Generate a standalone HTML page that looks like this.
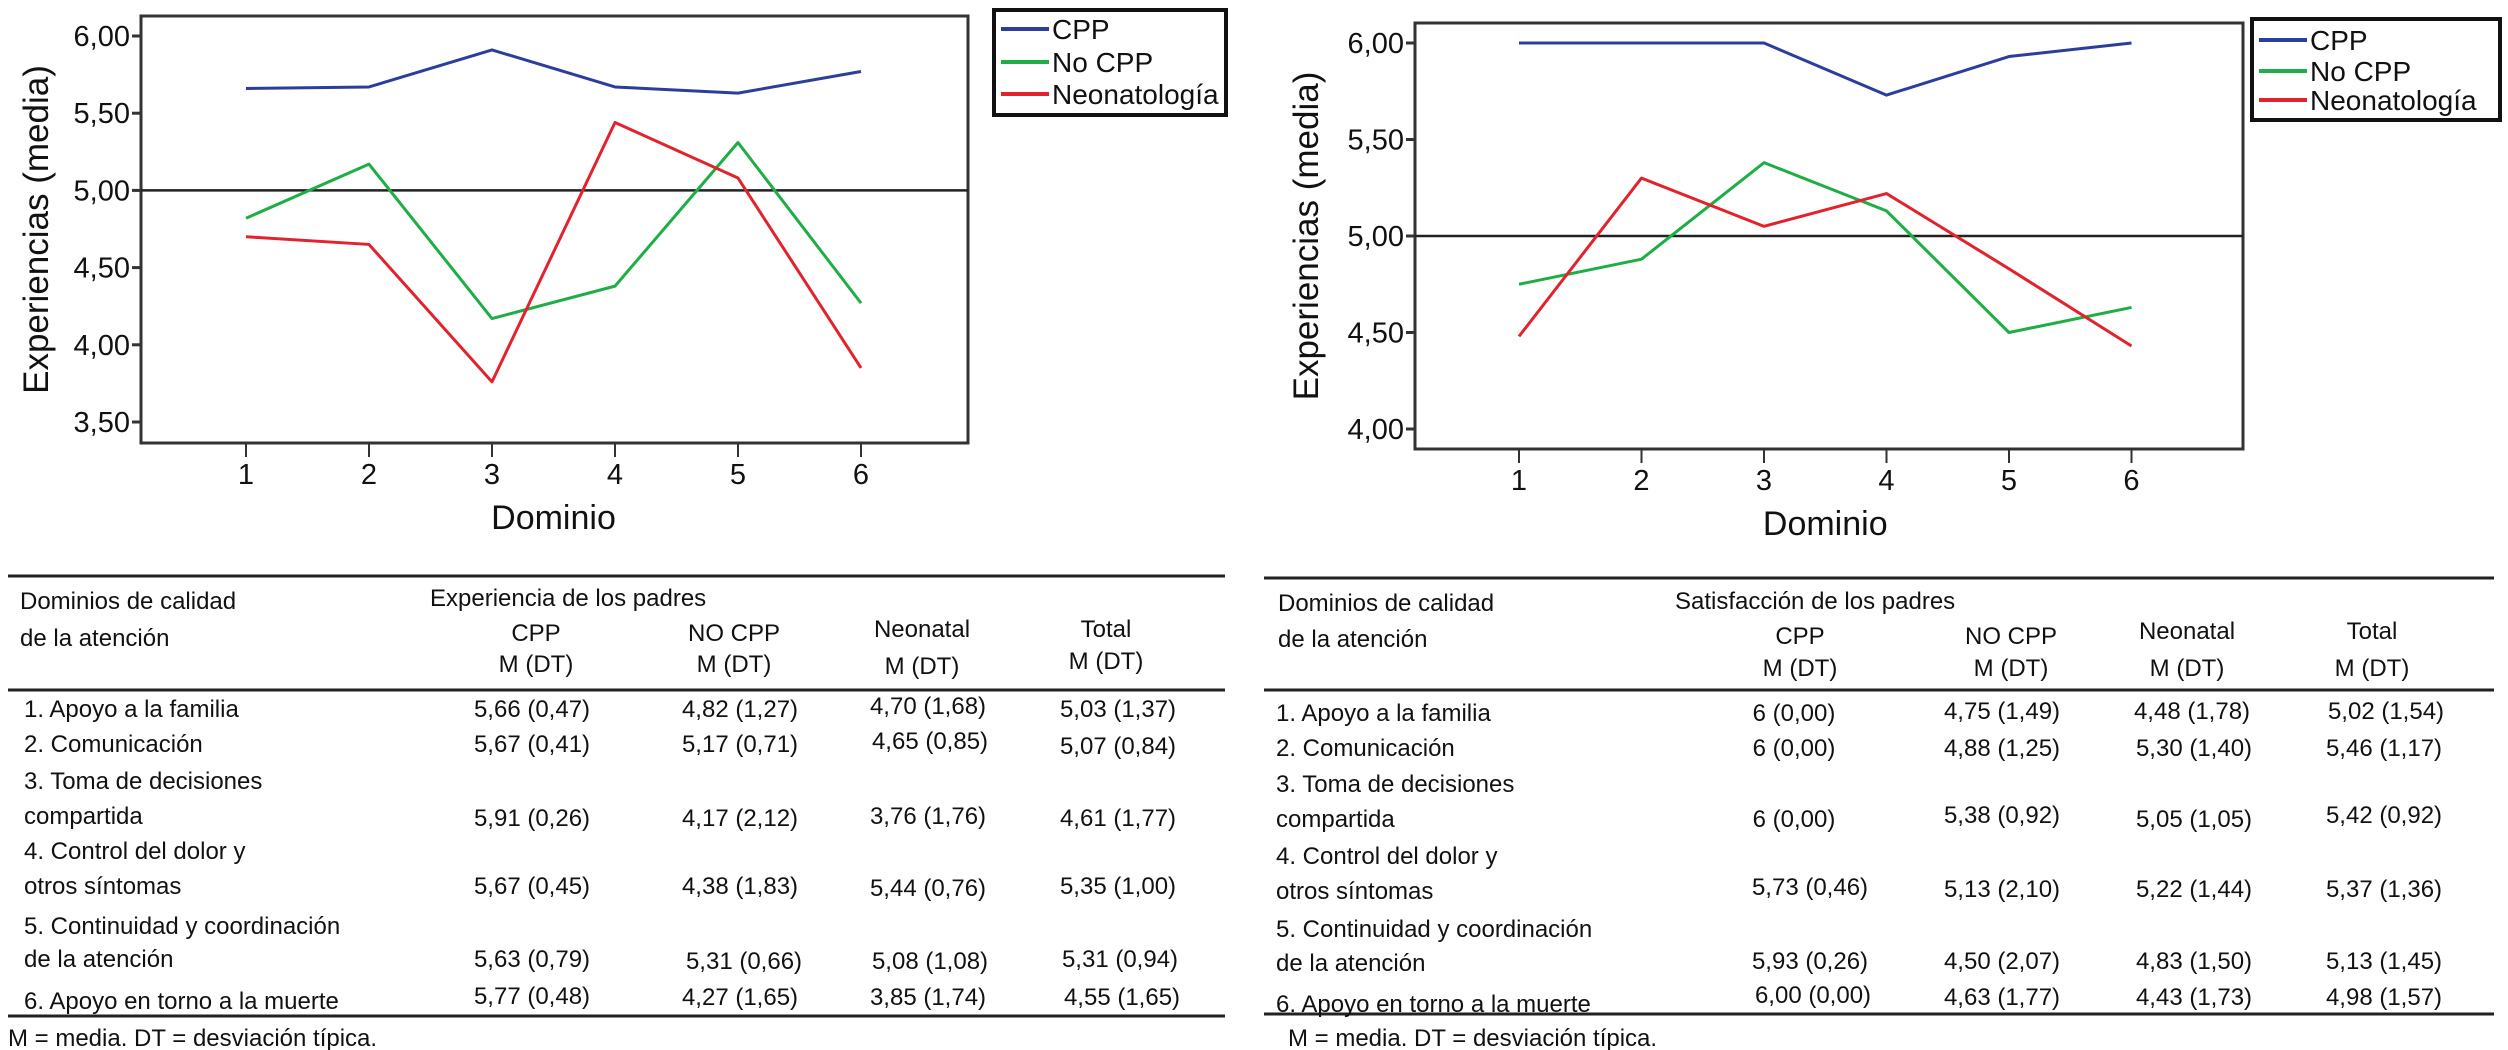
<!DOCTYPE html>
<html><head><meta charset="utf-8"><style>
html,body{margin:0;padding:0;background:#fff;}
body{width:2508px;height:1050px;overflow:hidden;position:relative;font-family:"Liberation Sans",Arial,sans-serif;}
svg{position:absolute;left:0;top:0;}
text{font-family:"Liberation Sans",Arial,sans-serif;fill:#111;}
</style></head><body>
<svg id="chart" width="2508" height="1050" viewBox="0 0 2508 1050">
<g id="tables">
  <!-- left table -->
  <g font-size="24">
    <line x1="8" y1="576" x2="1225" y2="576" stroke="#222" stroke-width="3"/>
    <line x1="8" y1="690" x2="1225" y2="690" stroke="#222" stroke-width="3"/>
    <line x1="8" y1="1016" x2="1225" y2="1016" stroke="#222" stroke-width="3"/>
    <text x="20" y="609">Dominios de calidad</text>
    <text x="20" y="646">de la atención</text>
    <text x="430" y="606">Experiencia de los padres</text>
    <g text-anchor="middle">
      <text x="536" y="641">CPP</text><text x="536" y="672">M (DT)</text>
      <text x="734" y="641">NO CPP</text><text x="734" y="672">M (DT)</text>
      <text x="922" y="637">Neonatal</text><text x="922" y="674">M (DT)</text>
      <text x="1106" y="637">Total</text><text x="1106" y="669">M (DT)</text>
    </g>
    <g>
      <text x="24" y="717">1. Apoyo a la familia</text>
      <text x="24" y="752">2. Comunicación</text>
      <text x="24" y="789">3. Toma de decisiones</text>
      <text x="24" y="824">compartida</text>
      <text x="24" y="859">4. Control del dolor y</text>
      <text x="24" y="894">otros síntomas</text>
      <text x="24" y="934">5. Continuidad y coordinación</text>
      <text x="24" y="967">de la atención</text>
      <text x="24" y="1009">6. Apoyo en torno a la muerte</text>
    </g>
    <g text-anchor="middle">
      <text x="532" y="717">5,66 (0,47)</text><text x="740" y="717">4,82 (1,27)</text><text x="928" y="714">4,70 (1,68)</text><text x="1118" y="717">5,03 (1,37)</text>
      <text x="532" y="752">5,67 (0,41)</text><text x="740" y="752">5,17 (0,71)</text><text x="930" y="749">4,65 (0,85)</text><text x="1118" y="754">5,07 (0,84)</text>
      <text x="532" y="826">5,91 (0,26)</text><text x="740" y="826">4,17 (2,12)</text><text x="928" y="824">3,76 (1,76)</text><text x="1118" y="826">4,61 (1,77)</text>
      <text x="532" y="894">5,67 (0,45)</text><text x="740" y="894">4,38 (1,83)</text><text x="928" y="896">5,44 (0,76)</text><text x="1118" y="894">5,35 (1,00)</text>
      <text x="532" y="967">5,63 (0,79)</text><text x="744" y="969">5,31 (0,66)</text><text x="930" y="969">5,08 (1,08)</text><text x="1120" y="967">5,31 (0,94)</text>
      <text x="532" y="1004">5,77 (0,48)</text><text x="740" y="1005">4,27 (1,65)</text><text x="928" y="1005">3,85 (1,74)</text><text x="1122" y="1005">4,55 (1,65)</text>
    </g>
    <text x="8" y="1046">M = media. DT = desviación típica.</text>
  </g>
  <!-- right table -->
  <g font-size="24">
    <line x1="1264" y1="578" x2="2494" y2="578" stroke="#222" stroke-width="3"/>
    <line x1="1264" y1="690" x2="2494" y2="690" stroke="#222" stroke-width="3"/>
    <line x1="1264" y1="1014" x2="2494" y2="1014" stroke="#222" stroke-width="3"/>
    <text x="1278" y="611">Dominios de calidad</text>
    <text x="1278" y="647">de la atención</text>
    <text x="1675" y="609">Satisfacción de los padres</text>
    <g text-anchor="middle">
      <text x="1800" y="644">CPP</text><text x="1800" y="676">M (DT)</text>
      <text x="2011" y="644">NO CPP</text><text x="2011" y="676">M (DT)</text>
      <text x="2187" y="639">Neonatal</text><text x="2187" y="676">M (DT)</text>
      <text x="2372" y="639">Total</text><text x="2372" y="676">M (DT)</text>
    </g>
    <g>
      <text x="1276" y="721">1. Apoyo a la familia</text>
      <text x="1276" y="756">2. Comunicación</text>
      <text x="1276" y="792">3. Toma de decisiones</text>
      <text x="1276" y="827">compartida</text>
      <text x="1276" y="864">4. Control del dolor y</text>
      <text x="1276" y="899">otros síntomas</text>
      <text x="1276" y="937">5. Continuidad y coordinación</text>
      <text x="1276" y="971">de la atención</text>
      <text x="1276" y="1012">6. Apoyo en torno a la muerte</text>
    </g>
    <g text-anchor="middle">
      <text x="1794" y="721">6 (0,00)</text><text x="2002" y="719">4,75 (1,49)</text><text x="2192" y="719">4,48 (1,78)</text><text x="2386" y="719">5,02 (1,54)</text>
      <text x="1794" y="756">6 (0,00)</text><text x="2002" y="756">4,88 (1,25)</text><text x="2194" y="756">5,30 (1,40)</text><text x="2384" y="756">5,46 (1,17)</text>
      <text x="1794" y="827">6 (0,00)</text><text x="2002" y="823">5,38 (0,92)</text><text x="2194" y="827">5,05 (1,05)</text><text x="2384" y="823">5,42 (0,92)</text>
      <text x="1810" y="895">5,73 (0,46)</text><text x="2002" y="897">5,13 (2,10)</text><text x="2194" y="897">5,22 (1,44)</text><text x="2384" y="897">5,37 (1,36)</text>
      <text x="1810" y="969">5,93 (0,26)</text><text x="2002" y="969">4,50 (2,07)</text><text x="2194" y="969">4,83 (1,50)</text><text x="2384" y="969">5,13 (1,45)</text>
      <text x="1813" y="1003">6,00 (0,00)</text><text x="2002" y="1005">4,63 (1,77)</text><text x="2194" y="1005">4,43 (1,73)</text><text x="2384" y="1005">4,98 (1,57)</text>
    </g>
    <text x="1288" y="1046">M = media. DT = desviación típica.</text>
  </g>
</g>
<g id="plots"></g>
</svg>
<script>
const domains = [1,2,3,4,5,6];
const leftCPP = [5.66,5.67,5.91,5.67,5.63,5.77];
const leftNoCPP = [4.82,5.17,4.17,4.38,5.31,4.27];
const leftNeo = [4.70,4.65,3.76,5.44,5.08,3.85];
const leftTicks = [3.5,4.0,4.5,5.0,5.5,6.0];
const rightCPP = [6.00,6.00,6.00,5.73,5.93,6.00];
const rightNoCPP = [4.75,4.88,5.38,5.13,4.50,4.63];
const rightNeo = [4.48,5.30,5.05,5.22,4.83,4.43];
const rightTicks = [4.0,4.5,5.0,5.5,6.0];
const seriesNames = ["CPP","No CPP","Neonatología"];
const refValue = 5.0;

const NS="http://www.w3.org/2000/svg";
const root=document.getElementById('plots');
function mk(tag,attrs,parent){const e=document.createElementNS(NS,tag);for(const k in attrs)e.setAttribute(k,attrs[k]);(parent||root).appendChild(e);return e;}
const colors=["#2c3e9c","#1fae46","#e2232e"];
const fmt=v=>v.toFixed(2).replace('.',',');

function drawChart(cfg){
  const g=mk('g',{});
  
  
  const xS=d=>cfg.x1+(d-1)*cfg.dx;
  const yS=v=>cfg.yTop+(cfg.vTop-v)*cfg.pxPerUnit;
  // frame
  const fr=mk('rect',{x:cfg.L,y:cfg.T,width:cfg.R-cfg.L,height:cfg.B-cfg.T,fill:'none',stroke:'#333','stroke-width':3},g);
  
  
  // y ticks
  cfg.ticks.forEach(t=>{
    const y=yS(t);
    const tl=mk('line',{x1:cfg.L-9,y1:y,x2:cfg.L,y2:y,stroke:'#333','stroke-width':3},g);
    
    
    const tx=mk('text',{x:cfg.L-11,y:y+10,'text-anchor':'end','font-size':29},g);
    tx.textContent=fmt(t);
    
    
  });
  // x ticks
  domains.forEach(d=>{
    const x=xS(d);
    const tl=mk('line',{x1:x,y1:cfg.B,x2:x,y2:cfg.B+14,stroke:'#333','stroke-width':2},g);
    
    
    const tx=mk('text',{x:x,y:cfg.B+41,'text-anchor':'middle','font-size':29},g);
    tx.textContent=String(d);
    
    
  });
  // reference line
  const ref=mk('line',{x1:cfg.L,y1:yS(refValue),x2:cfg.R,y2:yS(refValue),stroke:'#222','stroke-width':2.5},g);
  
  
  // series
  cfg.series.forEach((s,i)=>{
    const pts=s.map((v,k)=>xS(domains[k])+','+yS(v)).join(' ');
    const pl=mk('polyline',{points:pts,fill:'none',stroke:colors[i],'stroke-width':3,'stroke-linejoin':'round'},g);
    
    
  });
  // axis titles
  const xt=mk('text',{x:(xS(1)+xS(6))/2,y:cfg.B+86,'text-anchor':'middle','font-size':34},g);
  xt.textContent='Dominio';
  
  
  const yt=mk('text',{x:0,y:0,'text-anchor':'middle','font-size':35,transform:`translate(${cfg.yTitleX},${(cfg.T+cfg.B)/2}) rotate(-90)`},g);
  yt.textContent='Experiencias (media)';
  
  
  // legend
  const lg=mk('g',{},g);
  
  
  mk('rect',{x:cfg.lgX,y:cfg.lgY,width:cfg.lgW,height:cfg.lgH,fill:'#fff',stroke:'#111','stroke-width':4},lg);
  seriesNames.forEach((n,i)=>{
    const y=cfg.lgY+cfg.lgRows[i];
    const e=mk('g',{},lg);
    
    
    mk('line',{x1:cfg.lgX+7,y1:y,x2:cfg.lgX+55,y2:y,stroke:colors[i],'stroke-width':4},e);
    const t=mk('text',{x:cfg.lgX+58,y:y+10,'font-size':28},e);
    t.textContent=n;
  });
}
drawChart({name:'experience-chart',L:141,R:968,T:16,B:443,x1:246,dx:123,yTop:36,vTop:6,pxPerUnit:154.4,
  ticks:leftTicks,series:[leftCPP,leftNoCPP,leftNeo],yTitleX:48,
  lgX:994,lgY:10,lgW:232,lgH:105,lgRows:[19,52,84]});
drawChart({name:'satisfaction-chart',L:1415,R:2243,T:23,B:449,x1:1519,dx:122.5,yTop:43,vTop:6,pxPerUnit:193,
  ticks:rightTicks,series:[rightCPP,rightNoCPP,rightNeo],yTitleX:1318,
  lgX:2252,lgY:19,lgW:248,lgH:101,lgRows:[21,52,81]});
</script>
</body></html>
